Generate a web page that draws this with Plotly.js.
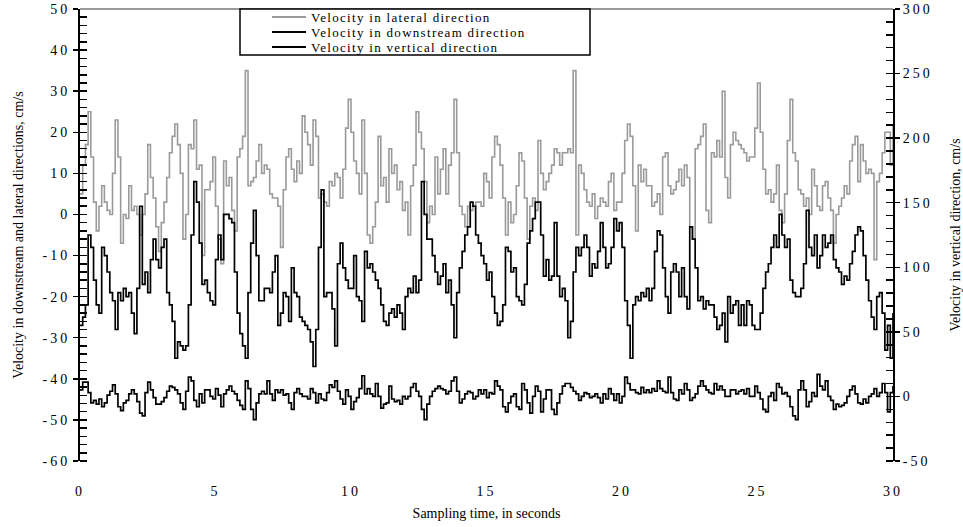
<!DOCTYPE html>
<html>
<head>
<meta charset="utf-8">
<script src="https://cdn.plot.ly/plotly-3.0.1.min.js"></script>
<style>
  html, body { margin: 0; padding: 0; background: #fff; }
  #chart { width: 963px; height: 527px; }
  .ytick text, .y2tick text, .xtick text { letter-spacing: 3px; }
  .annotation-text { letter-spacing: 1.3px; }
</style>
</head>
<body>
<div id="chart"></div>
<script>
// Sampling interval of the read-off values (seconds)
const sampleStep = 0.1;

// Velocity in lateral direction (left axis, cm/s), one value every 0.1 s from 0 to 30 s
const lateral = [
  5, 12, 17, 25, 14, 3, -4, 2, 7, 3, 1, 0, 10, 23, 14, -7, 0, -1, 7, 1, 2, 0, -5, 0, 5, 17, 9, 4, -3, -9, -2, 3, 9, 15, 19, 22, 17, 10, -6,
  0, 17, 16, 23, 11, 12, -10, 6, 6, 8, 14, 2, -6, -12, 13, 7, 9, 1, -4, 14, 16, 19, 35, 7, 8, 9, 13, 17, 10, 12, 11, 5, 4, 4, 2, -8, 6,
  14, 16, 11, 8, 13, 10, 24, 20, 17, 12, 23, 19, 4, 5, 3, 2, 8, 7, 10, 9, 4, 11, 21, 28, 20, 13, 10, 5, 23, 10, -5, -7, -3, 3, 19, 7, 9, 3,
  16, 10, 12, 6, 8, 1, 3, -5, 7, 12, 25, 20, 16, 8, -2, 2, 0, 14, 5, 11, 16, 5, 12, 15, 28, 15, 2, 0, -3, 2, 1, 2, 3, 3, 2, 10, 8, 4,
  14, 19, 17, 12, 4, -5, 3, -2, 0, 7, 15, 13, 4, -6, 2, 4, 1, 18, 10, 6, 8, 10, 12, 16, 15, 12, 15, 15, 16, 15, 35, -5, 12, 10, 6, 3, 2,
  5, -1, 2, 4, 3, 2, 8, 10, 1, 3, 3, 10, 18, 22, 19, 7, -4, 12, 8, 11, 7, 7, 2, 3, 5, 0, 14, 15, 7, 5, 6, 8, 11, 7, 12, 9, -3, -6,
  16, 17, 19, 22, 1, -2, 15, 14, 18, 14, 30, 9, 4, 17, 20, 18, 17, 16, 15, 13, 14, 14, 21, 32, 20, 11, 5, 6, 3, 5, 12, 1, -2, 5, 18, 28, 15, 13,
  6, 5, 2, 4, 0, 11, 7, 2, 1, 7, 8, 4, 1, -7, 0, 2, 4, 7, 5, 13, 17, 19, 8, 17, 13, 10, 11, 10, -11, 8, 10, 15, 20, 20, 12, 22
];

// Velocity in downstream direction (left axis, cm/s)
const downstream = [
  -27, -25, -22, -5, -8, -16, -22, -24, -8, -10, -14, -19, -21, -28, -19, -21, -18, -20, -19, -24, -29, -18, 2, -17, -14, -19, -11, -6, -11, -13, -8, -6, -19, -22, -26, -35, -31, -32, -33,
  -32, -22, -5, 8, 3, -7, -17, -16, -19, -21, -22, -11, -5, -11, 0, 0, -1, -2, -14, -24, -29, -32, -35, -19, -7, 1, -10, -21, -21, -18, -18, -19, -14, -10, -27, -24, -19,
  -20, -26, -13, -19, -20, -25, -26, -27, -28, -31, -37, -28, -8, 6, -20, -19, -19, -23, -32, -12, -7, -13, -16, -18, -18, -10, -20, -21, -26, -9, -13, -12, -14, -16, -18, -22, -26, -27,
  -24, -23, -25, -22, -24, -28, -20, -18, -19, -15, -19, -16, 8, 0, -6, -6, -10, -14, -17, -15, -12, -19, -16, -22, -30, -19, -13, -9, -5, -3, 3, 2, -5, -7, -10, -12, -16, -14,
  -20, -24, -27, -26, -22, -8, -9, -14, -13, -20, -21, -22, -17, -7, -4, -1, 3, 3, -5, -15, -11, -16, -15, -2, -15, -20, -18, -21, -30, -26, -14, -8, -10, -8, -5, -8, -15,
  -12, -13, -9, -2, -8, -13, -12, -8, -1, -4, -2, -8, -21, -27, -35, -22, -20, -21, -19, -20, -18, -21, -18, -9, -4, -5, -13, -20, -24, -14, -12, -14, -20, -13, -20, -23, -3, -6,
  -13, -21, -20, -23, -21, -22, -22, -25, -28, -27, -24, -31, -20, -24, -22, -21, -27, -22, -27, -21, -22, -27, -28, -28, -24, -18, -14, -12, -8, -5, -8, 0, -5, -8, -6, -16, -19, -20,
  -20, -18, -12, 1, -8, -10, -5, -13, -10, -5, -8, -7, -5, -11, -13, -14, -17, -15, -16, -12, -9, -5, -3, -4, -10, -16, -21, -25, -28, -20, -19, -24, -33, -27, -35, -24
];

// Velocity in vertical direction (right axis, cm/s)
const vertical = [
  5, 11, 11, 3, -5, -3, -6, -2, -8, -5, 1, 4, 9, 2, -8, -11, -5, -3, 2, 5, 2, -4, -13, -15, 3, 11, 5, -1, -6, -6, -4, -1, 4, 8, 7, 5, 2, -5, -10,
  4, 15, 12, -3, -8, 2, -5, 5, 5, 0, -2, 6, 1, -8, 2, 5, 8, 4, 2, -3, -7, -10, 12, 6, -10, -18, -5, 2, 4, 2, 12, 2, -3, 5, 3, 5, 1,
  2, -5, -10, 3, 6, 2, 0, 0, -2, 6, 3, -5, 2, -2, -3, 3, 9, 7, 12, 4, -2, -6, 5, 0, -10, -4, -1, 6, 16, 2, 6, 2, 0, 10, 0, -9, -6, -5,
  8, -2, -4, -3, -6, 0, -2, 0, 7, 10, 4, 0, -10, -18, -6, 0, 4, 6, 8, 6, 5, 2, 4, 12, 15, 4, -5, -2, 2, 4, 3, -2, 0, 5, 2, 5, -1, 3,
  2, 12, 8, 5, -8, -12, -5, 0, 2, -8, -10, 10, 5, -5, -13, 0, 8, 4, -12, -2, 5, 5, -10, -14, -5, 2, 8, 10, 10, 7, 4, 2, -3, 0, 3, 2, -1,
  0, 2, -1, -5, 2, -2, 6, 2, -3, 2, -5, 0, 15, 10, 5, 5, 3, 2, 7, 3, 5, 3, 6, 4, 12, 6, 4, 3, 15, 3, -2, -3, 5, 2, 10, 5, -3, -1,
  2, 8, 12, 8, 5, 3, 2, 10, 5, 8, 5, 0, 0, 5, 5, 2, 4, 5, 2, 6, 0, 0, 8, 3, -2, -10, -12, 0, 3, -3, 10, 7, 2, 3, 0, -8, -15, -18,
  5, 12, 5, -8, -4, 3, 0, 17, 8, 5, 12, 0, -3, -10, -6, -8, -7, -5, 0, 5, 8, 2, -5, -6, -2, -5, 0, 2, 6, 0, 3, 10, 3, -12, 3, 8
];

// Sampling times of the values above
const time = lateral.map((_, i) => Math.round(i * sampleStep * 10) / 10);

const seriesNames = [
  'Velocity in lateral direction',
  'Velocity in downstream direction',
  'Velocity in vertical direction'
];
const seriesColors = ['#9a9a9a', '#000000', '#000000'];

const xTicks = [0, 5, 10, 15, 20, 25, 30];
const leftTicks = [-60, -50, -40, -30, -20, -10, 0, 10, 20, 30, 40, 50];
const rightTicks = [-50, 0, 50, 100, 150, 200, 250, 300];

const FONT = 'Liberation Serif, Times New Roman, serif';

const traces = [
  { x: time, y: lateral, type: 'scatter', mode: 'lines', name: seriesNames[0],
    line: { color: seriesColors[0], width: 1.6, shape: 'hv' }, yaxis: 'y' },
  { x: time, y: downstream, type: 'scatter', mode: 'lines', name: seriesNames[1],
    line: { color: seriesColors[1], width: 1.7, shape: 'hv' }, yaxis: 'y' },
  { x: time, y: vertical, type: 'scatter', mode: 'lines', name: seriesNames[2],
    line: { color: seriesColors[2], width: 1.7, shape: 'hv' }, yaxis: 'y2' }
];

// plot area in pixels: x 80..893, y 9..461
const L = 80, R = 893, T = 9, B = 461;
const px = v => (v - L) / (R - L);
const py = v => (B - v) / (B - T);

const legendRows = [17, 32, 47];
const shapes = [
  // top border (gray)
  { type: 'line', xref: 'paper', yref: 'paper', x0: 0, x1: 1, y0: 1, y1: 1,
    line: { color: '#9a9a9a', width: 2 } },
  // legend box
  { type: 'rect', xref: 'paper', yref: 'paper', x0: px(240), x1: px(590), y0: py(55), y1: 1,
    fillcolor: '#ffffff', line: { color: '#000000', width: 1.5 }, layer: 'above' }
];
const annotations = [];
seriesNames.forEach((name, i) => {
  shapes.push({ type: 'line', xref: 'paper', yref: 'paper',
    x0: px(272), x1: px(306), y0: py(legendRows[i]), y1: py(legendRows[i]),
    line: { color: seriesColors[i], width: 2 }, layer: 'above' });
  annotations.push({ xref: 'paper', yref: 'paper', x: px(309), y: py(legendRows[i]),
    xanchor: 'left', yanchor: 'middle', showarrow: false, text: name,
    font: { family: FONT, size: 13, color: '#000' } });
});

const baseY = {
  showgrid: false, zeroline: false, ticklen: 5, tickwidth: 1.5, tickcolor: '#000',
  showline: true, linecolor: '#000', linewidth: 2,
  tickfont: { family: FONT, size: 14, color: '#000' }
};

const layout = {
  width: 963, height: 527,
  margin: { l: L, r: 963 - R, t: T, b: 527 - B },
  paper_bgcolor: '#fff', plot_bgcolor: '#fff',
  showlegend: false,
  font: { family: FONT, color: '#000' },
  xaxis: {
    range: [0, 30], tickvals: xTicks, ticktext: xTicks.map(String),
    showgrid: false, zeroline: false, showline: false,
    ticks: 'outside', ticklen: 17, tickcolor: 'rgba(0,0,0,0)',
    tickfont: { family: FONT, size: 14, color: '#000' },
    title: { text: 'Sampling time, in seconds', font: { family: FONT, size: 14, color: '#000' }, standoff: 10 }
  },
  yaxis: Object.assign({}, baseY, {
    range: [-60, 50], tickvals: leftTicks, ticktext: leftTicks.map(String),
    ticks: 'outside', side: 'left',
    minor: { dtick: 2, tick0: 0, ticks: 'inside', ticklen: 7, tickwidth: 1.5, tickcolor: '#000' },
    title: { text: 'Velocity in downstream and lateral directions, cm/s', font: { family: FONT, size: 14, color: '#000' }, standoff: 16 }
  }),
  yaxis3: Object.assign({}, baseY, {
    range: [-60, 50], overlaying: 'y', side: 'left', tickvals: leftTicks,
    ticks: 'inside', ticklen: 7, showticklabels: false, showline: false
  }),
  yaxis2: Object.assign({}, baseY, {
    range: [-50, 300], overlaying: 'y', side: 'right', tickvals: rightTicks, ticktext: rightTicks.map(String),
    ticks: 'outside',
    minor: { dtick: 10, tick0: 0, ticks: 'inside', ticklen: 7, tickwidth: 1.5, tickcolor: '#000' },
    title: { text: 'Velocity in vertical direction, cm/s', font: { family: FONT, size: 14, color: '#000' }, standoff: 18 }
  }),
  yaxis4: Object.assign({}, baseY, {
    range: [-50, 300], overlaying: 'y', side: 'right', tickvals: rightTicks,
    ticks: 'inside', ticklen: 7, showticklabels: false, showline: false
  }),
  shapes: shapes,
  annotations: annotations
};

Plotly.newPlot('chart', traces, layout, { staticPlot: true, displayModeBar: false });
</script>
</body>
</html>
